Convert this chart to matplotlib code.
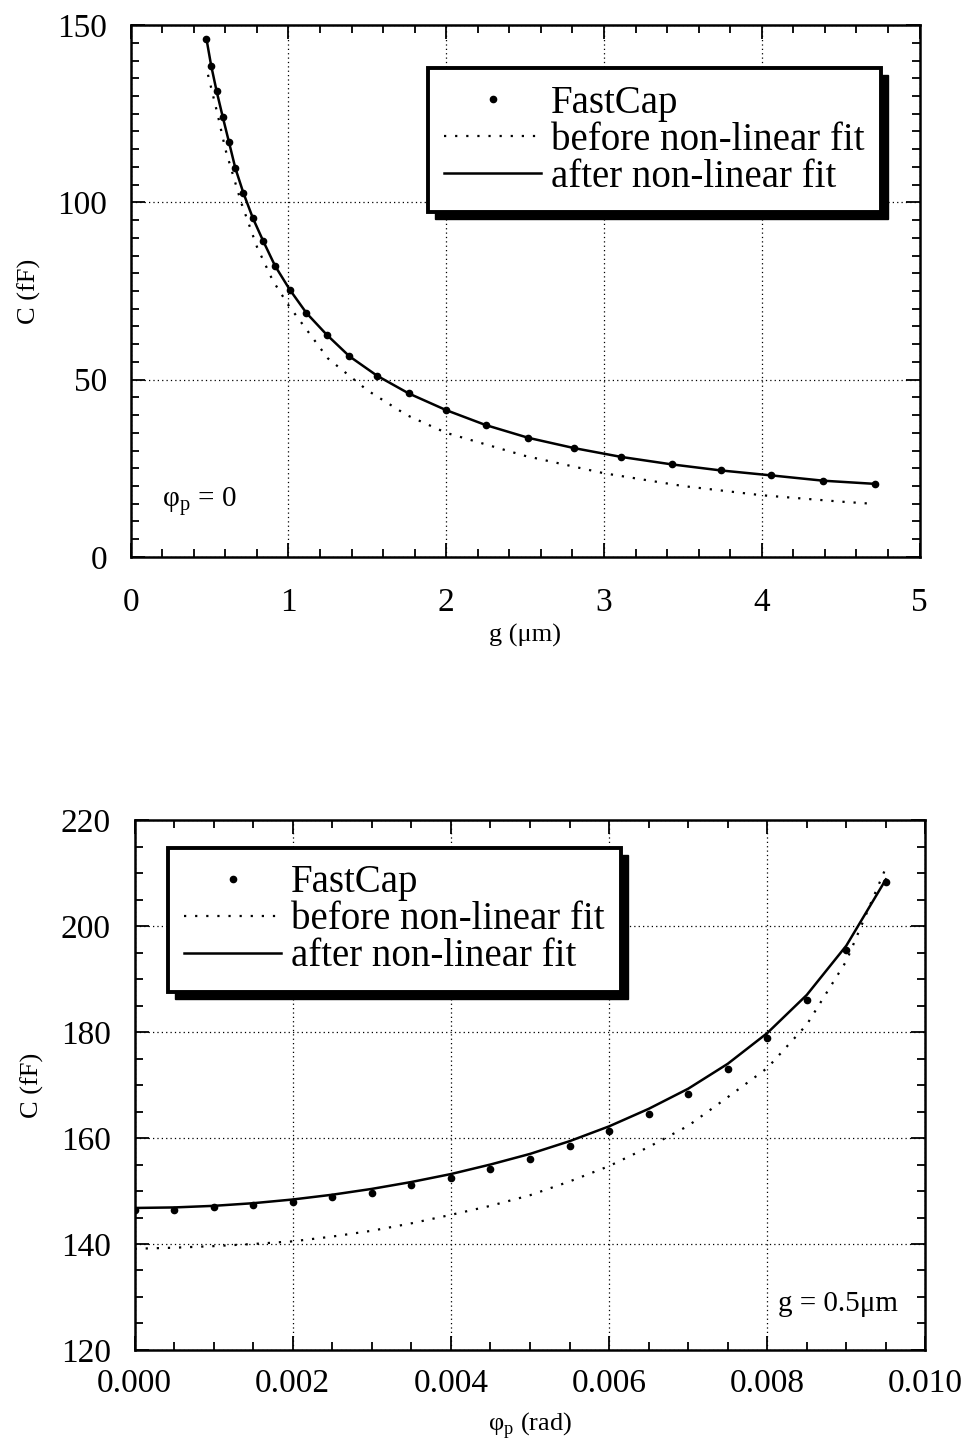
import matplotlib
matplotlib.use("Agg")
import matplotlib.pyplot as plt
from matplotlib.patches import Rectangle
from matplotlib.ticker import MultipleLocator, FormatStrFormatter
from matplotlib.transforms import IdentityTransform

plt.rcParams['font.family'] = ['Liberation Serif', 'DejaVu Serif']
plt.rcParams['mathtext.fontset'] = 'custom'
plt.rcParams['mathtext.rm'] = 'Liberation Serif'

# ---------------- data: top panel (phi_p = 0) ----------------
g_fastcap = [0.48, 0.51, 0.545, 0.583, 0.623, 0.663, 0.714, 0.775, 0.841, 0.915,
             1.008, 1.114, 1.242, 1.386, 1.562, 1.763, 2.0, 2.25, 2.52, 2.81,
             3.11, 3.43, 3.74, 4.06, 4.39, 4.72]
C_fastcap_g = [146.2, 138.6, 131.3, 124.2, 117.0, 109.7, 102.7, 95.5, 89.0, 82.1,
               75.4, 68.8, 62.7, 56.6, 51.1, 46.1, 41.4, 37.2, 33.6, 30.7,
               28.2, 26.1, 24.4, 23.0, 21.5, 20.6]
g_before = [0.49, 0.55, 0.6, 0.7, 0.8, 0.9, 1.0, 1.25, 1.5, 1.75, 2.0, 2.5, 3.0,
            3.5, 4.0, 4.5, 4.7]
C_before_g = [136, 125, 115, 100, 87.5, 78, 71, 56, 47, 40, 35, 28.5, 23.6,
              20.0, 17.4, 15.6, 15.0]

# ---------------- data: bottom panel (g = 0.5 um) ----------------
phi_fastcap = [0.0, 0.0005, 0.001, 0.0015, 0.002, 0.0025, 0.003, 0.0035, 0.004,
               0.0045, 0.005, 0.0055, 0.006, 0.0065, 0.007, 0.0075, 0.008,
               0.0085, 0.009, 0.0095]
C_fastcap_phi = [146.4, 146.5, 146.9, 147.3, 147.9, 148.8, 149.7, 151.1, 152.5,
                 154.2, 156.0, 158.4, 161.3, 164.5, 168.4, 173.1, 178.9, 186.1,
                 195.5, 208.4]
phi_after = [0.0, 0.0005, 0.001, 0.0015, 0.002, 0.0025, 0.003, 0.0035, 0.004,
             0.0045, 0.005, 0.0055, 0.006, 0.0065, 0.007, 0.0075, 0.008,
             0.0085, 0.009, 0.0095]
C_after_phi = [146.8, 146.9, 147.2, 147.7, 148.4, 149.3, 150.4, 151.7, 153.2,
               155.0, 157.0, 159.4, 162.2, 165.5, 169.3, 174.0, 179.8, 187.0,
               196.3, 208.8]
phi_before = [0.0, 0.0005, 0.001, 0.0015, 0.002, 0.0025, 0.003, 0.0035, 0.004,
              0.0045, 0.005, 0.0055, 0.006, 0.0065, 0.007, 0.0075, 0.008,
              0.0085, 0.009, 0.0095]
C_before_phi = [139.1, 139.3, 139.6, 140.0, 140.5, 141.4, 142.5, 143.9, 145.5,
                147.2, 149.2, 151.8, 154.7, 158.3, 162.3, 167.7, 173.2, 181.4,
                193.4, 211.0]

legend_labels = ['FastCap', 'before non-linear fit', 'after non-linear fit']

fig = plt.figure(figsize=(9.68, 14.53), dpi=100)
ax1 = fig.add_axes([0.135, 0.6167, 0.815, 0.366])
ax2 = fig.add_axes([0.139, 0.0709, 0.817, 0.3647])

dot_style = (0, (1, 4))
grid_style = (0, (1, 2.5))


def style_axes(ax, xpad):
    for s in ax.spines.values():
        s.set_linewidth(1.8)
    ax.tick_params(which='both', direction='in', top=True, right=True,
                   width=1.3, labelsize=24)
    ax.tick_params(which='major', length=10)
    ax.tick_params(axis='x', which='major', pad=xpad)
    ax.tick_params(axis='y', which='major', pad=17)
    ax.tick_params(which='minor', length=5.5)
    ax.grid(True, which='major', color='black', linestyle=grid_style,
            linewidth=0.9)


def add_shadow(ax, leg, off=7):
    fig.canvas.draw()
    bb = leg.get_frame().get_window_extent()
    r = Rectangle((bb.x0 + off, bb.y0 - off), bb.width, bb.height,
                  transform=IdentityTransform(), facecolor='black',
                  edgecolor='black', zorder=4.9, clip_on=False)
    ax.add_artist(r)


leg_kw = dict(borderaxespad=0, fontsize=28, frameon=True, fancybox=False,
              handlelength=2.5, handletextpad=0.25, labelspacing=0.0,
              borderpad=0.42, edgecolor='black', framealpha=1)

# ---------- top panel ----------
ax = ax1
p1, = ax.plot(g_fastcap, C_fastcap_g, linestyle='none', marker='o',
              markersize=4.5, color='black', zorder=4)
p2, = ax.plot(g_before, C_before_g, linestyle=dot_style, linewidth=1.6,
              color='black', zorder=3)
p3, = ax.plot(g_fastcap, C_fastcap_g, linestyle='-', linewidth=1.8,
              color='black', zorder=3)
ax.set_xlim(0, 5)
ax.set_ylim(0, 150)
ax.xaxis.set_major_locator(MultipleLocator(1))
ax.xaxis.set_minor_locator(MultipleLocator(0.2))
ax.yaxis.set_major_locator(MultipleLocator(50))
ax.yaxis.set_minor_locator(MultipleLocator(5))
style_axes(ax, xpad=22)
ax.set_xlabel('g (μm)', fontsize=19, labelpad=4)
ax.set_ylabel('C (fF)', fontsize=19, labelpad=12)
ax.text(0.2, 14, r'φ$_{\rm p}$ = 0', fontsize=21, ha='left', va='baseline')
leg1 = ax.legend([p1, p2, p3], legend_labels, loc='upper right',
                 bbox_to_anchor=(0.951, 0.919), **leg_kw)
leg1.get_frame().set_linewidth(2.8)
leg1.set_zorder(5)

# ---------- bottom panel ----------
ax = ax2
q1, = ax.plot(phi_fastcap, C_fastcap_phi, linestyle='none', marker='o',
              markersize=4.5, color='black', zorder=4)
q2, = ax.plot(phi_before, C_before_phi, linestyle=dot_style, linewidth=1.6,
              color='black', zorder=3)
q3, = ax.plot(phi_after, C_after_phi, linestyle='-', linewidth=1.8,
              color='black', zorder=3)
ax.set_xlim(0, 0.010)
ax.set_ylim(120, 220)
ax.xaxis.set_major_locator(MultipleLocator(0.002))
ax.xaxis.set_minor_locator(MultipleLocator(0.0005))
ax.xaxis.set_major_formatter(FormatStrFormatter('%.3f'))
ax.yaxis.set_major_locator(MultipleLocator(20))
ax.yaxis.set_minor_locator(MultipleLocator(5))
style_axes(ax, xpad=13)
ax.set_xlabel(r'φ$_{\rm p}$ (rad)', fontsize=19, labelpad=8)
ax.set_ylabel('C (fF)', fontsize=19, labelpad=12)
ax.text(0.00814, 128.7, 'g = 0.5μm', fontsize=21, ha='left', va='center')
leg2 = ax.legend([q1, q2, q3], legend_labels, loc='upper left',
                 bbox_to_anchor=(0.042, 0.947), **leg_kw)
leg2.get_frame().set_linewidth(2.8)
leg2.set_zorder(5)

add_shadow(ax1, leg1)
add_shadow(ax2, leg2)

fig.savefig('out.png', dpi=100)
